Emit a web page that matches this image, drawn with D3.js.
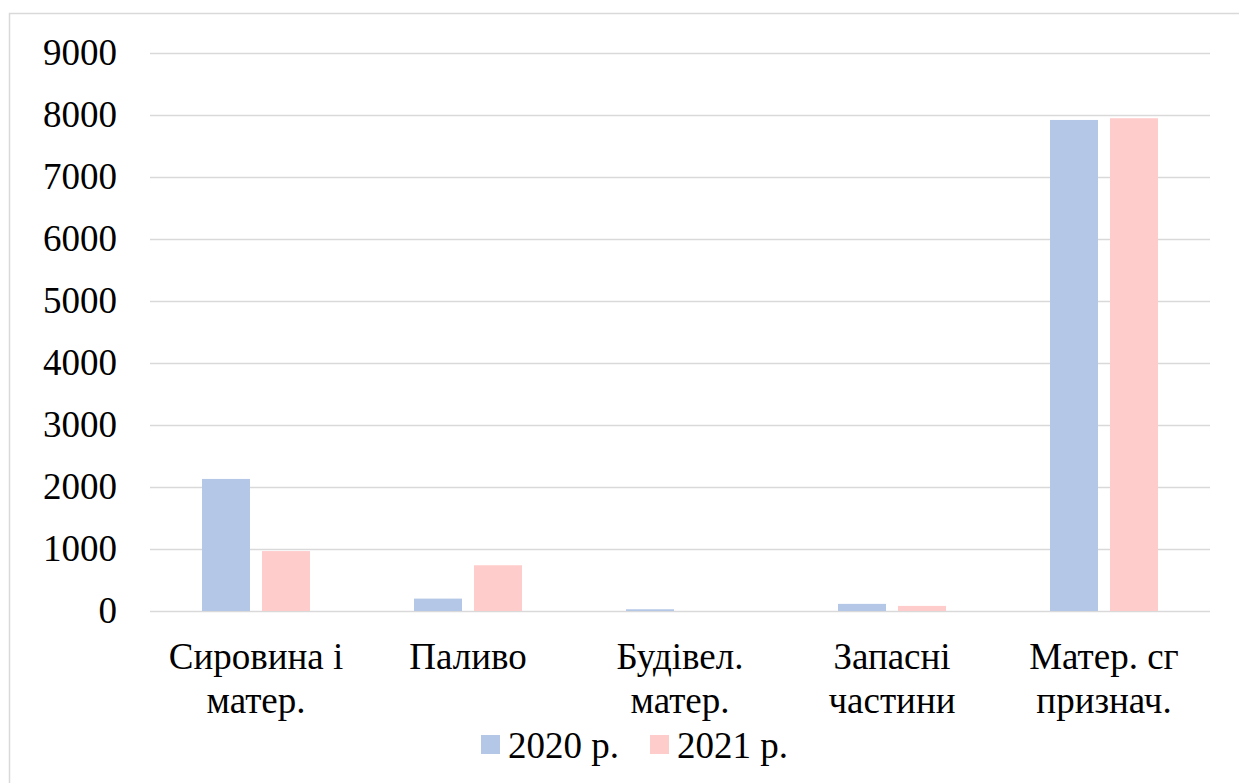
<!DOCTYPE html>
<html>
<head>
<meta charset="utf-8">
<script src="https://cdn.jsdelivr.net/npm/d3@7"></script>
<style>
  html, body { margin: 0; padding: 0; background: #fff; }
  svg { display: block; }
</style>
</head>
<body>
<svg id="chart" width="1239" height="783"></svg>
<script>
const categories = [["Сировина і", "матер."], ["Паливо"], ["Будівел.", "матер."], ["Запасні", "частини"], ["Матер. сг", "признач."]];
const categoryKeys = ["Сировина і матер.", "Паливо", "Будівел. матер.", "Запасні частини", "Матер. сг признач."];
const seriesNames = ["2020 р.", "2021 р."];
const values2020 = [2130, 200, 28, 115, 7920];
const values2021 = [967, 738, 0, 82, 7948];
const seriesColors = ["#B4C7E7", "#FFCCCC"];
const yTicks = [0, 1000, 2000, 3000, 4000, 5000, 6000, 7000, 8000, 9000];

const FONT = "'Liberation Serif', 'Times New Roman', Times, serif";
const svg = d3.select("#chart");
const W = 1239, H = 783;
const plot = { left: 150, right: 1210, top: 53, bottom: 611 };
const fontSize = 37;

svg.append("rect")
  .attr("x", 9.5).attr("y", 13.5)
  .attr("width", W).attr("height", H)
  .attr("fill", "none").attr("stroke", "#d9d9d9").attr("stroke-width", 1.5);

const y = d3.scaleLinear().domain([0, 9000]).range([plot.bottom, plot.top]);
const x0 = d3.scaleBand().domain(categoryKeys).range([plot.left, plot.right])
  .paddingInner(104 / 212).paddingOuter(52 / 212);
const x1 = d3.scaleBand().domain(seriesNames).range([0, x0.bandwidth()])
  .paddingInner(0.2).paddingOuter(0);

const yAxis = d3.axisLeft(y).tickValues(yTicks).tickSize(-(plot.right - plot.left)).tickPadding(33).tickFormat(d3.format("d"));
const gy = svg.append("g").attr("transform", `translate(${plot.left},0)`).call(yAxis);
gy.select(".domain").remove();
gy.selectAll(".tick line").attr("stroke", "#d9d9d9").attr("stroke-width", 1.5);
gy.selectAll(".tick text")
  .style("font-family", FONT)
  .style("font-size", fontSize + "px")
  .attr("fill", "#000")
  .attr("dy", "0.32em");

const data = categoryKeys.map((k, i) => ({ key: k, vals: [values2020[i], values2021[i]] }));
const groups = svg.append("g").selectAll("g").data(data).join("g")
  .attr("transform", d => `translate(${x0(d.key)},0)`);
groups.selectAll("rect").data(d => d.vals.map((v, j) => ({ v, s: seriesNames[j], j })))
  .join("rect")
  .attr("x", d => x1(d.s))
  .attr("width", x1.bandwidth())
  .attr("y", d => y(d.v))
  .attr("height", d => y(0) - y(d.v))
  .attr("fill", d => seriesColors[d.j]);

const xAxis = d3.axisBottom(x0).tickSize(0).tickFormat(() => "");
const gx = svg.append("g").attr("transform", `translate(0,${plot.bottom})`).call(xAxis);
gx.select(".domain").remove();
gx.selectAll(".tick").each(function(d, i) {
  const t = d3.select(this).append("text")
    .attr("text-anchor", "middle")
    .style("font-family", FONT)
    .style("font-size", fontSize + "px")
    .attr("fill", "#000");
  categories[i].forEach((line, li) => {
    t.append("tspan").attr("x", 0).attr("y", 58 + li * 44).text(line);
  });
});

const legend = svg.append("g");
const legendItems = [{ x: 481, tx: 508 }, { x: 650, tx: 677 }];
seriesNames.forEach((name, i) => {
  legend.append("rect")
    .attr("x", legendItems[i].x).attr("y", 735)
    .attr("width", 19).attr("height", 19)
    .attr("fill", seriesColors[i]);
  legend.append("text")
    .attr("x", legendItems[i].tx).attr("y", 758)
    .style("font-family", FONT)
    .style("font-size", fontSize + "px")
    .attr("fill", "#000")
    .text(name);
});
</script>
</body>
</html>
